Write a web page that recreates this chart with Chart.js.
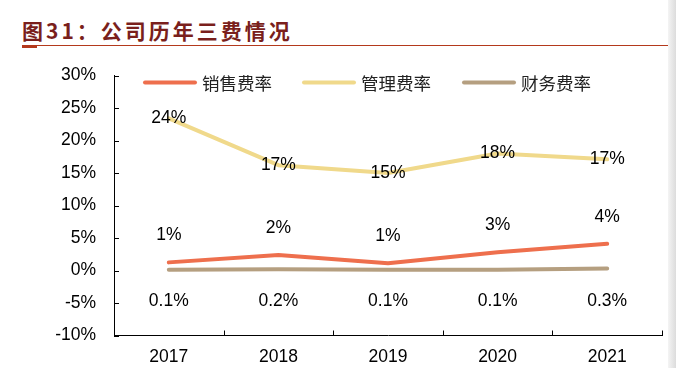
<!DOCTYPE html>
<html>
<head>
<meta charset="utf-8">
<script src="https://cdn.jsdelivr.net/npm/chart.js@4.4.1/dist/chart.umd.min.js"></script>
<style>
  body { margin: 0; width: 676px; height: 368px; background: #fff; overflow: hidden; position: relative; }
  #titulo { position: absolute; left: 22px; top: 15px; font: bold 21px "Noto Sans CJK SC", sans-serif; color: #7a1f1c; letter-spacing: 3px; }
  #linha { position: absolute; left: 22px; right: 0; top: 45px; height: 1px; background: #b4391c; }
  #marca { position: absolute; left: 22px; width: 15px; top: 45px; height: 3px; background: #b4391c; }
  #sombra { position: absolute; right: 0; top: 0; width: 8px; height: 368px; background: linear-gradient(to right, #f4f4f4, #dcdcdc); }
  #grafico { position: absolute; left: 0; top: 0; }
</style>
</head>
<body>
<div id="titulo">图31：公司历年三费情况</div>
<div id="linha"></div>
<div id="marca"></div>
<canvas id="grafico" width="676" height="368"></canvas>
<div id="sombra"></div>
<script>
// dados
const anos = ['2017', '2018', '2019', '2020', '2021'];
const vendas = [1.25, 2.4, 1.1, 2.8, 4.1];       // 销售费率 (%)
const gestao = [23.4, 16.2, 15.0, 18.0, 17.1];   // 管理费率 (%)
const financeiro = [0.1, 0.2, 0.1, 0.1, 0.3];    // 财务费率 (%)
const rotulosVendas = ['1%', '2%', '1%', '3%', '4%'];
const rotulosGestao = ['24%', '17%', '15%', '18%', '17%'];
const rotulosFinanceiro = ['0.1%', '0.2%', '0.1%', '0.1%', '0.3%'];
const nomesSeries = ['销售费率', '管理费率', '财务费率'];

const cores = ['#ee6f4d', '#f0d98b', '#b59f80'];
const fonteNum = '17.5px "Liberation Sans", Arial, sans-serif';

// rótulos de dados e legenda desenhados à mão (sem plugin externo)
const pluginRotulos = {
    id: 'rotulos',
    afterDatasetsDraw(chart) {
        const ctx = chart.ctx;
        const textos = [rotulosVendas, rotulosGestao, rotulosFinanceiro];
        const deslocY = [-27, 0, 31];
        ctx.save();
        ctx.font = fonteNum;
        ctx.fillStyle = '#000';
        ctx.textAlign = 'center';
        ctx.textBaseline = 'middle';
        chart.data.datasets.forEach((ds, i) => {
            chart.getDatasetMeta(i).data.forEach((pt, j) => {
                const y = i === 2 ? chart.scales.y.getPixelForValue(0) + deslocY[i] : pt.y + deslocY[i];
                ctx.fillText(textos[i][j], pt.x, y);
            });
        });
        ctx.restore();
    },
    afterDraw(chart) {
        const ctx = chart.ctx;
        const xs = chart.scales.x;
        const ys = chart.scales.y;
        ctx.save();
        // marcas dos eixos voltadas para dentro
        ctx.strokeStyle = '#000';
        ctx.lineWidth = 1;
        ctx.beginPath();
        ys.ticks.forEach(t => {
            const py = Math.round(ys.getPixelForValue(t.value)) + 0.5;
            ctx.moveTo(xs.left, py);
            ctx.lineTo(xs.left + 5, py);
        });
        const banda = xs.getPixelForValue(1) - xs.getPixelForValue(0);
        for (let i = 0; i <= anos.length; i++) {
            const px = Math.round(xs.getPixelForValue(0) - banda / 2 + banda * i) + 0.5;
            ctx.moveTo(px, ys.bottom);
            ctx.lineTo(px, ys.bottom - 5);
        }
        ctx.stroke();
        // legenda
        const posLegenda = [143, 302, 462];
        const yLeg = 82.5;
        ctx.lineWidth = 4;
        ctx.lineCap = 'round';
        ctx.font = '17.5px "Noto Sans CJK SC", sans-serif';
        ctx.textBaseline = 'middle';
        ctx.fillStyle = '#222';
        nomesSeries.forEach((nome, i) => {
            ctx.strokeStyle = cores[i];
            ctx.beginPath();
            ctx.moveTo(posLegenda[i] + 2, yLeg);
            ctx.lineTo(posLegenda[i] + 52, yLeg);
            ctx.stroke();
            ctx.fillText(nome, posLegenda[i] + 59, yLeg + 1);
        });
        ctx.restore();
    }
};

document.addEventListener('DOMContentLoaded', function () {
    const ctx = document.getElementById('grafico').getContext('2d');
    const series = [vendas, gestao, financeiro];
    new Chart(ctx, {
        type: 'line',
        data: {
            labels: anos,
            datasets: series.map((valores, i) => ({
                label: nomesSeries[i],
                data: valores,
                borderColor: cores[i],
                backgroundColor: cores[i],
                borderWidth: 4,
                borderCapStyle: 'round',
                borderJoinStyle: 'round',
                pointRadius: 0,
                tension: 0,
                fill: false
            }))
        },
        options: {
            responsive: false,
            animation: false,
            devicePixelRatio: 1,
            layout: { padding: { top: 75.5, right: 14, bottom: 0, left: 0 } },
            plugins: {
                legend: { display: false },
                tooltip: { enabled: false }
            },
            scales: {
                x: {
                    offset: true,
                    grid: { display: false, offset: true },
                    border: { display: true, color: '#000', width: 1 },
                    ticks: { color: '#000', font: { family: '"Liberation Sans", Arial, sans-serif', size: 17.5 }, padding: 3, maxRotation: 0 },
                    afterFit(scale) { scale.height = 32.5; }
                },
                y: {
                    min: -10,
                    max: 30,
                    grid: { display: false },
                    border: { display: true, color: '#000', width: 1 },
                    ticks: {
                        stepSize: 5,
                        color: '#000',
                        padding: 10,
                        font: { family: '"Liberation Sans", Arial, sans-serif', size: 17.5 },
                        callback: v => v + '%'
                    },
                    afterFit(scale) { scale.width = 114; }
                }
            }
        },
        plugins: [pluginRotulos]
    });
});
</script>
</body>
</html>
